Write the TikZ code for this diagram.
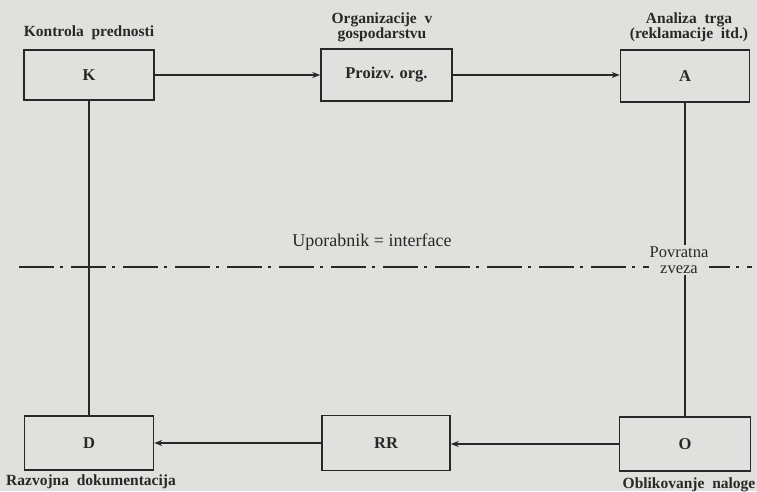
\documentclass[tikz,border=0pt]{standalone}
\usepackage{fontspec}
\setmainfont{Liberation Serif}
\usetikzlibrary{arrows.meta}
\definecolor{paper}{RGB}{224,224,222}
\definecolor{ink}{RGB}{40,40,40}
\tikzset{
  box/.style={draw=ink, line width=1.5pt, rectangle, inner sep=0pt, text=ink, font=\bfseries\fontsize{16.5}{18}\selectfont},
  lbl/.style={text=ink, inner sep=0pt, align=center, font=\bfseries\fontsize{15.5}{15}\selectfont},
  conn/.style={draw=ink, line width=1.5pt},
  arr/.style={conn, -{Stealth[length=8pt,width=6pt]}},
  ifline/.style={draw=ink, line width=1.6pt, dash pattern=on 35pt off 6pt on 3pt off 8pt}
}
\begin{document}
\begin{tikzpicture}[x=1pt,y=-1pt]
\fill[paper] (0,0) rectangle (757,491);
\useasboundingbox (0,0) rectangle (757,491);
% boxes
\node[box, minimum width=130pt, minimum height=50pt] (K) at (89,75) {K};
\node[box, minimum width=131pt, minimum height=52pt] (P) at (386.5,75) {Proizv. org.};
\node[box, minimum width=129pt, minimum height=52pt] (A) at (685,76) {A};
\node[box, minimum width=129pt, minimum height=54pt] (D) at (89,443) {D};
\node[box, minimum width=128pt, minimum height=55pt] (RR) at (386,443) {RR};
\node[box, minimum width=131pt, minimum height=54pt] (O) at (685,444) {O};
% labels
\node[lbl] (kl) at (89,33) {Kontrola\ \ prednosti};
\node[lbl] (pl) at (382,27) {Organizacije\ \ v\\gospodarstvu};
\node[lbl] (al) at (689,27) {Analiza\ \ trga\\(reklamacije\ \ itd.)};
\node[lbl] (dl) at (91,482) {Razvojna\ \ dokumentacija};
\node[lbl] (ol) at (689,485) {Oblikovanje\ \ naloge};
\node[lbl, font=\fontsize{18}{16}\selectfont] (ul) at (372,242) {Uporabnik = interface};
% interface line
\coordinate (L1) at (19,267);
\coordinate (L2) at (752,267);
\draw[ifline] (L1) -- (L2);
\node[lbl, fill=paper, inner sep=1pt, font=\fontsize{16.5}{16}\selectfont] (pz) at (679,260) {Povratna\\zveza};
% connectors
\draw[arr] (K.east) -- (K.east -| P.west);
\draw[arr] (P.east) -- (P.east -| A.west);
\draw[arr] (O.west) -- (O.west -| RR.east);
\draw[arr] (RR.west) -- (RR.west -| D.east);
\draw[conn] (K.south) -- (D.north);
\draw[conn] (A.south) -- (A.south |- pz.north);
\draw[conn] (A.south |- pz.south) -- (O.north);
\end{tikzpicture}
\end{document}
